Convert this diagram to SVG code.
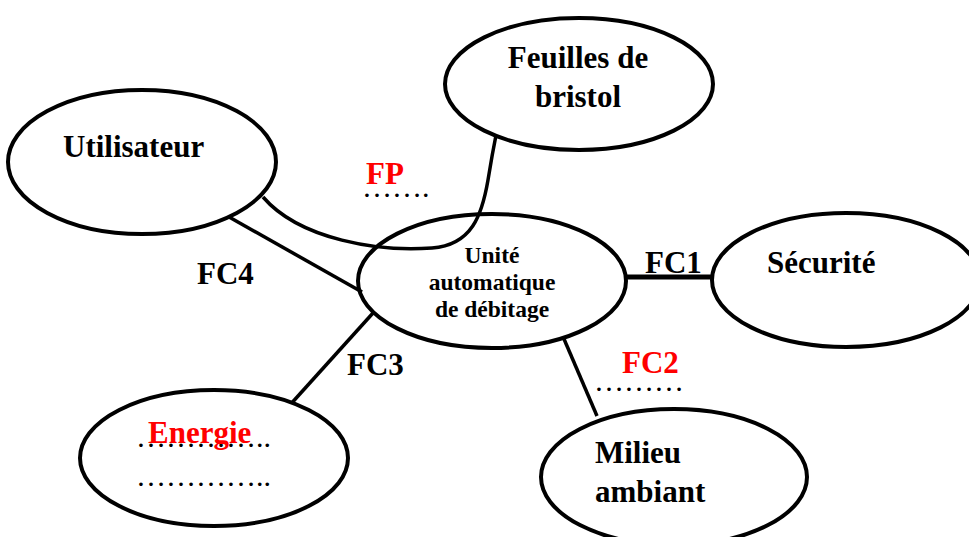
<svg xmlns="http://www.w3.org/2000/svg" width="969" height="537" viewBox="0 0 969 537">
<style>
.n{fill:#fff;stroke:#000;stroke-width:4}
.c{fill:none;stroke:#000;stroke-width:3.5}
text{font-family:"Liberation Serif","Times New Roman",serif;font-weight:bold;font-size:31px;fill:#000}
.r{fill:#f00}
.s{font-size:23.5px}
.m{text-anchor:middle}
.d{font-weight:normal;font-size:30px}
</style>
<rect width="969" height="537" fill="#fff"/>
<g id="connectors">
<path class="c" d="M263,197 C300,240 380,252 432,248 C472,245 482,215 488,180 C492,155 495,140 497,130"/>
<line class="c" x1="222" y1="213" x2="362" y2="292"/>
<line class="c" x1="373" y1="313" x2="289" y2="406"/>
<line class="c" x1="564" y1="339" x2="597" y2="416"/>
<line class="c" style="stroke-width:5" x1="625" y1="277" x2="713" y2="277"/>
</g>
<g id="utilisateur">
<ellipse class="n" cx="142" cy="162" rx="134" ry="72"/>
<text x="63" y="157">Utilisateur</text>
</g>
<g id="feuilles">
<ellipse class="n" cx="579" cy="84" rx="134" ry="66"/>
<text class="m" x="578" y="68">Feuilles de</text>
<text class="m" x="578" y="107">bristol</text>
</g>
<g id="unite">
<ellipse class="n" cx="492" cy="281" rx="134" ry="67" style="fill:none"/>
<text class="s m" x="492" y="263">Unité</text>
<text class="s m" x="492" y="290">automatique</text>
<text class="s m" x="492" y="317">de débitage</text>
</g>
<g id="securite">
<ellipse class="n" cx="846" cy="280" rx="134" ry="67"/>
<text x="767" y="273">Sécurité</text>
</g>
<g id="energie">
<ellipse class="n" cx="214" cy="458" rx="134" ry="68"/>
<text class="d" x="136" y="447">…………..</text>
<text class="d" x="136" y="486">…………..</text>
<text class="r" x="148" y="443">Energie</text>
</g>
<g id="milieu">
<ellipse class="n" cx="674" cy="477" rx="133" ry="68"/>
<text x="595" y="463">Milieu</text>
<text x="595" y="502">ambiant</text>
</g>
<g id="labels">
<text class="r" x="366" y="184">FP</text>
<text class="d" x="362" y="197">…….</text>
<text x="645" y="273">FC1</text>
<text x="197" y="284">FC4</text>
<text x="347" y="375">FC3</text>
<text class="r" x="622" y="373">FC2</text>
<text class="d" x="594" y="391">………</text>
</g>
</svg>
